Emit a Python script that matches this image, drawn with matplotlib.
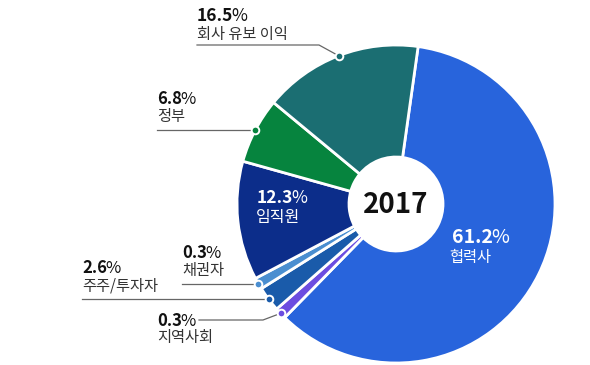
import numpy as np
import matplotlib
matplotlib.use("Agg")
import matplotlib.pyplot as plt

plt.rcParams['font.family'] = ['Noto Sans CJK KR', 'DejaVu Sans']

# data (clockwise from the top)
labels = ['협력사', '지역사회', '주주/투자자', '채권자', '임직원', '정부', '회사 유보 이익']
values = [61.2, 0.3, 2.6, 0.3, 12.3, 6.8, 16.5]
colors = ['#2864DC', '#6C4DE0', '#1A5BAA', '#4A8ED0', '#0C2D8A', '#06843E', '#1B6E72']
center_label = '2017'

# tiny slices get a minimum visible width
display = np.maximum(values, 1.2)

W, H = 590, 365
fig = plt.figure(figsize=(W / 100, H / 100), dpi=100)
ax = fig.add_axes([0, 0, 1, 1])

cx, cy = 396, H - 204
R, r = 159, 47
wedges, _ = ax.pie(display, colors=colors, startangle=82, counterclock=False,
                   center=(cx, cy), radius=R,
                   wedgeprops=dict(width=R - r, edgecolor='white', linewidth=2))
ax.set_xlim(0, W)
ax.set_ylim(0, H)
ax.set_aspect('equal')
ax.axis('off')

renderer = fig.canvas.get_renderer()


def py(y):
    return H - y


def pct_text(x, y, num, color, size):
    # bold number followed by a regular-weight percent sign
    t = ax.text(x, py(y), num, fontsize=size, fontweight='bold', color=color,
                va='baseline', ha='left')
    bb = t.get_window_extent(renderer)
    x1 = ax.transData.inverted().transform((bb.x1, bb.y0))[0]
    ax.text(x1 - 1.5, py(y), '%', fontsize=size, color=color, va='baseline')


def dot(i):
    w = wedges[i]
    a = np.deg2rad((w.theta1 + w.theta2) / 2)
    x, y = cx + R * np.cos(a), cy + R * np.sin(a)
    ax.plot(x, y, 'o', ms=5.5, mfc=colors[i], mec='white', mew=1.4, zorder=5)
    return x, y


line_kw = dict(color='#666666', lw=0.9, zorder=4)
txt_col = '#333333'

# outside labels with straight leader
for i, tx in [(5, 157), (3, 182), (2, 82)]:
    dx, dy = dot(i)
    ax.plot([tx, dx], [dy, dy], **line_kw)
    ly = H - dy
    pct_text(tx, ly - 26, f'{values[i]}', '#111111', 12)
    ax.text(tx, py(ly - 9), labels[i], fontsize=11, color=txt_col, va='baseline')

# 회사 유보 이익 (elbow leader)
dx, dy = dot(6)
ax.plot([197, 319, dx], [py(45), py(45), dy], **line_kw)
pct_text(197, 21, f'{values[6]}', '#111111', 12.5)
ax.text(197, py(39), labels[6], fontsize=11, color=txt_col, va='baseline')

# 지역사회 (elbow leader)
dx, dy = dot(1)
ax.plot([199, 263, dx], [py(320), py(320), dy], **line_kw)
pct_text(157, 326, f'{values[1]}', '#111111', 12)
ax.text(157, py(342), labels[1], fontsize=11, color=txt_col, va='baseline')

# labels inside slices
pct_text(257, 203, f'{values[4]}', 'white', 12.5)
ax.text(278, py(222), labels[4], fontsize=11.5, color='white', va='baseline', ha='center')
pct_text(452, 243, f'{values[0]}', 'white', 14)
ax.text(449, py(262), labels[0], fontsize=11, color='white', va='baseline')

ax.text(cx, cy - 1, center_label, fontsize=20, fontweight='bold', color='#111111',
        ha='center', va='center')

fig.savefig('out.png', dpi=100)
